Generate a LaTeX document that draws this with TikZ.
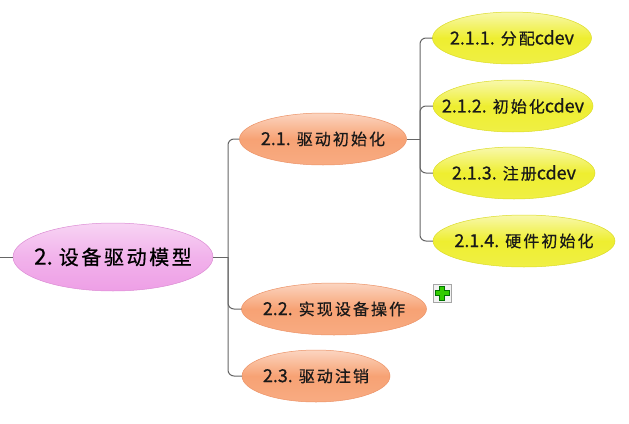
\documentclass[tikz,border=0pt]{standalone}
\usepackage{fontspec}
\setmainfont{Noto Sans CJK SC}
\newfontfamily\numfont[FakeBold=0.6,Scale=1.12]{Noto Sans CJK SC}
\newfontfamily\cjkspaced[LetterSpace=13,FakeBold=0.6]{Noto Sans CJK SC}
\newcommand{\mmlab}[2]{{\numfont #1}\hspace{6pt}{\cjkspaced #2}}
\usetikzlibrary{shapes.geometric,calc}
\definecolor{pinkbase}{HTML}{EE9FE6}
\definecolor{pinkedge}{HTML}{DC8CD4}
\definecolor{orbase}{HTML}{F7A274}
\definecolor{oredge}{HTML}{EC9266}
\definecolor{yebase}{HTML}{EEEE30}
\definecolor{yeedge}{HTML}{DCDC28}
\definecolor{linegray}{HTML}{666666}
\definecolor{plusgreen}{HTML}{33CC00}
\tikzset{
  bubble/.style={ellipse, inner sep=0pt, line width=0.5pt},
  rootbub/.style={bubble, draw=pinkedge, top color=pinkbase!45!white, bottom color=pinkbase, middle color=pinkbase!80!white, minimum width=200, minimum height=68},
  orbub/.style={bubble, draw=oredge, top color=orbase!45!white, bottom color=orbase!90!white, middle color=orbase, minimum height=52},
  yebub/.style={bubble, draw=yeedge, top color=yebase!40!white, bottom color=yebase!90!white, middle color=yebase, minimum height=52},
  rootlab/.style={text=black, font=\fontsize{20}{24}\selectfont},
  sublab/.style={text=black!90, font=\fontsize{16}{19}\selectfont},
  conn/.style={draw=linegray, line width=1pt, rounded corners=6pt},
}
\begin{document}
\begin{tikzpicture}[x=1pt,y=-1pt]
\useasboundingbox (0,0) rectangle (629,423);
% nodes
\node[rootbub, label={[rootlab]center:\mmlab{2.}{设备驱动模型}}] (root) at (113,257) {};
\node[orbub, minimum width=167, label={[sublab]center:\mmlab{2.1.}{驱动初始化}}] (a21) at (323,139) {};
\node[orbub, minimum width=185, label={[sublab]center:\mmlab{2.2.}{实现设备操作}}] (a22) at (334,309) {};
\node[orbub, minimum width=148, label={[sublab]center:\mmlab{2.3.}{驱动注销}}] (a23) at (316,376) {};
\node[yebub, minimum width=159, label={[sublab]center:\mmlab{2.1.1.}{分配}{\numfont cdev}}] (b1) at (512,38) {};
\node[yebub, minimum width=160, label={[sublab]center:\mmlab{2.1.2.}{初始化}{\numfont cdev}}] (b2) at (513,106) {};
\node[yebub, minimum width=162, label={[sublab]center:\mmlab{2.1.3.}{注册}{\numfont cdev}}] (b3) at (514,173) {};
\node[yebub, minimum width=182, label={[sublab]center:\mmlab{2.1.4.}{硬件初始化}}] (b4) at (524,241) {};
% plus icon
\node[draw=black!35, fill=black!5, minimum size=18, inner sep=0pt] (plus) at (442,293) {};
\fill[plusgreen, draw=green!45!black, line width=0.4pt]
  ($(plus.center)+(-2.5,-7)$) -- ++(5,0) -- ++(0,4.5) -- ++(4.5,0) -- ++(0,5) -- ++(-4.5,0) -- ++(0,4.5) -- ++(-5,0) -- ++(0,-4.5) -- ++(-4.5,0) -- ++(0,-5) -- ++(4.5,0) -- cycle;
% connectors
\coordinate (lend) at (0,257);
\coordinate (t) at (228,257);
\coordinate (s) at (420,139);
\draw[conn] (lend) -- (root.west);
\draw[conn] (root.east) -- (t);
\draw[conn] (t) |- (a21.west);
\draw[conn] (t) |- (a22.west);
\draw[conn] (t) |- (a23.west);
\draw[conn] (a21.east) -- (s);
\draw[conn] (s) |- (b1.west);
\draw[conn] (s) |- (b2.west);
\draw[conn] (s) |- (b3.west);
\draw[conn] (s) |- (b4.west);
\end{tikzpicture}
\end{document}
